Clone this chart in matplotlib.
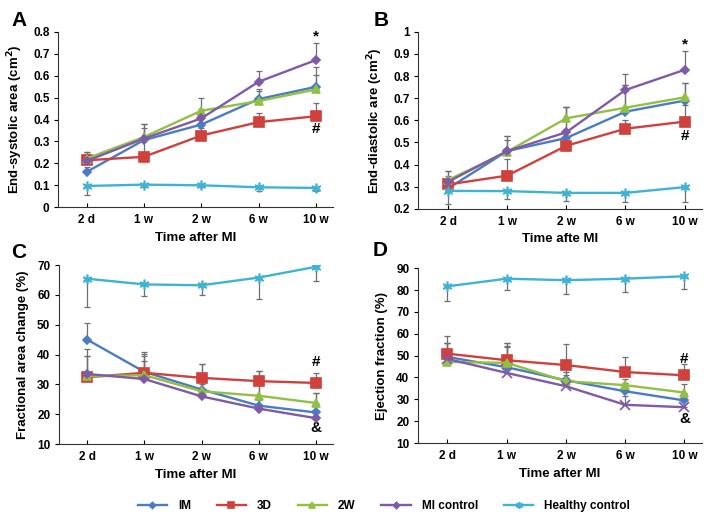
import matplotlib
matplotlib.use("Agg")
import matplotlib.pyplot as plt

plt.rcParams['font.family'] = ['Liberation Sans', 'DejaVu Sans']
plt.rcParams['font.weight'] = 'bold'

# data
times = ['2 d', '1 w', '2 w', '6 w', '10 w']
groups = ['IM', '3D', '2W', 'MI control', 'Healthy control']
colors = ['#4a7cc4', '#d0403c', '#92c043', '#7f5aa8', '#3fb3d4']

# A: end-systolic area
esa_im = [0.161, 0.306, 0.377, 0.493, 0.549]
esa_3d = [0.214, 0.230, 0.327, 0.388, 0.415]
esa_2w = [0.222, 0.320, 0.440, 0.484, 0.537]
esa_mi = [0.211, 0.313, 0.405, 0.572, 0.671]
esa_hc = [0.097, 0.103, 0.100, 0.091, 0.088]
esa_err = [[0.023, 0.054, 0.045, 0.047, 0.091],
           [0.031, 0.070, 0.033, 0.042, 0.061],
           [0.028, 0.060, 0.060, 0.046, 0.068],
           [0.039, 0.067, 0.045, 0.050, 0.079],
           [0.039, 0.010, 0.008, 0.016, 0.013]]

# B: end-diastolic area
eda_im = [0.292, 0.461, 0.520, 0.639, 0.689]
eda_3d = [0.310, 0.350, 0.485, 0.562, 0.594]
eda_2w = [0.330, 0.458, 0.609, 0.657, 0.704]
eda_mi = [0.322, 0.461, 0.546, 0.737, 0.828]
eda_hc = [0.281, 0.280, 0.272, 0.272, 0.298]
eda_err = [[0.040, 0.050, 0.140, 0.120, 0.080],
           [0.040, 0.075, 0.045, 0.040, 0.075],
           [0.040, 0.072, 0.051, 0.103, 0.066],
           [0.048, 0.069, 0.114, 0.073, 0.086],
           [0.061, 0.036, 0.036, 0.040, 0.066]]

# C: fractional area change
fac_im = [45.0, 34.2, 28.3, 22.9, 20.6]
fac_3d = [32.4, 33.9, 32.2, 31.1, 30.5]
fac_2w = [32.7, 33.1, 27.7, 26.2, 23.8]
fac_mi = [33.5, 31.8, 26.0, 21.9, 18.7]
fac_hc = [65.4, 63.5, 63.2, 65.8, 69.4]
fac_err = [[5.6, 6.0, 8.7, 11.5, 6.4],
           [7.1, 6.9, 4.8, 3.3, 3.4],
           [9.0, 6.5, 5.0, 4.0, 3.3],
           [6.0, 6.0, 4.0, 3.0, 2.5],
           [9.3, 3.9, 3.3, 7.3, 4.9]]

# D: ejection fraction
ef_im = [49.4, 44.7, 38.7, 33.7, 29.5]
ef_3d = [50.9, 47.9, 45.7, 42.5, 41.0]
ef_2w = [47.1, 46.7, 38.3, 36.5, 33.1]
ef_mi = [48.5, 42.1, 36.0, 27.5, 26.4]
ef_hc = [81.7, 85.2, 84.5, 85.2, 86.3]
ef_err = [[6.5, 11.0, 5.0, 4.0, 3.0],
          [7.9, 7.9, 9.6, 6.7, 5.2],
          [8.5, 7.5, 4.0, 3.0, 4.0],
          [7.5, 12.0, 5.0, 4.0, 3.0],
          [6.8, 5.3, 6.3, 6.1, 6.0]]

hc_marker = (6, 2, 0)
markers = ['D', 's', '^', 'D', hc_marker]
msizes = [4.5, 6.5, 6, 4.5, 7]

fig = plt.figure(figsize=(7.24, 5.30), dpi=100)

panels = [
    ('A', [0.080, 0.609, 0.380, 0.331], [esa_im, esa_3d, esa_2w, esa_mi, esa_hc], esa_err,
     (0, 0.8), [0, 0.1, 0.2, 0.3, 0.4, 0.5, 0.6, 0.7, 0.8], ['0', '0.1', '0.2', '0.3', '0.4', '0.5', '0.6', '0.7', '0.8'],
     'End-systolic area (cm$^\\mathbf{2}$)', 'Time after MI', 'D', [(0.78, '*'), (0.355, '#')]),
    ('B', [0.578, 0.606, 0.392, 0.334], [eda_im, eda_3d, eda_2w, eda_mi, eda_hc], eda_err,
     (0.2, 1.0), [0.2, 0.3, 0.4, 0.5, 0.6, 0.7, 0.8, 0.9, 1.0], ['0.2', '0.3', '0.4', '0.5', '0.6', '0.7', '0.8', '0.9', '1'],
     'End-diastolic are (cm$^\\mathbf{2}$)', 'Time afte MI', 'D', [(0.945, '*'), (0.53, '#')]),
    ('C', [0.081, 0.162, 0.379, 0.338], [fac_im, fac_3d, fac_2w, fac_mi, fac_hc], fac_err,
     (10, 70), [10, 20, 30, 40, 50, 60, 70], ['10', '20', '30', '40', '50', '60', '70'],
     'Fractional area change (%)', 'Time after MI', 'D', [(37.5, '#'), (15.3, '&')]),
    ('D', [0.577, 0.164, 0.393, 0.330], [ef_im, ef_3d, ef_2w, ef_mi, ef_hc], ef_err,
     (10, 90), [10, 20, 30, 40, 50, 60, 70, 80, 90], ['10', '20', '30', '40', '50', '60', '70', '80', '90'],
     'Ejection fraction (%)', 'Time after MI', 'x', [(48.5, '#'), (21.0, '&')]),
]

x = list(range(len(times)))
lines = []
for letter, pos, series, errs, ylim, yt, ytl, ylab, xlab, mi_mk, notes in panels:
    ax = fig.add_axes(pos)
    for i, (vals, err) in enumerate(zip(series, errs)):
        if i == 4:
            yerr = [err, [0] * 5]
        else:
            yerr = [[0] * 5, err]
        ax.errorbar(x, vals, yerr=yerr, fmt='none', ecolor='#6f6f6f', elinewidth=0.9,
                    capsize=2.5, capthick=0.9, zorder=1)
    for i, vals in enumerate(series):
        mk = markers[i]
        ms = msizes[i]
        if i == 3:
            mk = mi_mk
            ms = 4.5 if mi_mk == 'D' else 7
        ln, = ax.plot(x, vals, color=colors[i], lw=1.7, marker=mk, ms=ms,
                      mec=colors[i], mfc=colors[i], mew=1.2, zorder=2 + i, label=groups[i])
        if letter == 'A':
            lines.append(ln)
    for yv, txt in notes:
        ax.text(4, yv, txt, ha='center', va='center', fontsize=11, fontweight='bold')
    ax.set_xlim(-0.5, 4.3)
    ax.set_ylim(*ylim)
    ax.set_yticks(yt)
    ax.set_yticklabels(ytl)
    ax.set_xticks(x)
    ax.set_xticklabels(times)
    ax.spines['top'].set_visible(False)
    ax.spines['right'].set_visible(False)
    ax.spines['left'].set_color('#333333')
    ax.spines['bottom'].set_color('#333333')
    ax.tick_params(axis='y', direction='out', length=3, labelsize=8.5, pad=3)
    ax.tick_params(axis='x', direction='in', length=3, labelsize=8.5, pad=5)
    ax.set_ylabel(ylab, fontsize=9.5, fontweight='bold', labelpad=6)
    ax.set_xlabel(xlab, fontsize=9.5, fontweight='bold', labelpad=4)

letter_pos = {'A': (19, 20), 'B': (381, 20), 'C': (19, 252), 'D': (380, 250)}
for k, (px, py) in letter_pos.items():
    fig.text(px / 724, 1 - py / 530, k, fontsize=15, fontweight='bold', ha='center', va='center')

fig.legend(handles=lines, labels=groups, loc='center', bbox_to_anchor=(0.53, 1 - 506 / 530),
           ncol=5, frameon=False, fontsize=8.5, handlelength=2.5, columnspacing=2.2,
           handletextpad=0.9, markerscale=0.7)

fig.savefig('out.png', dpi=100)
